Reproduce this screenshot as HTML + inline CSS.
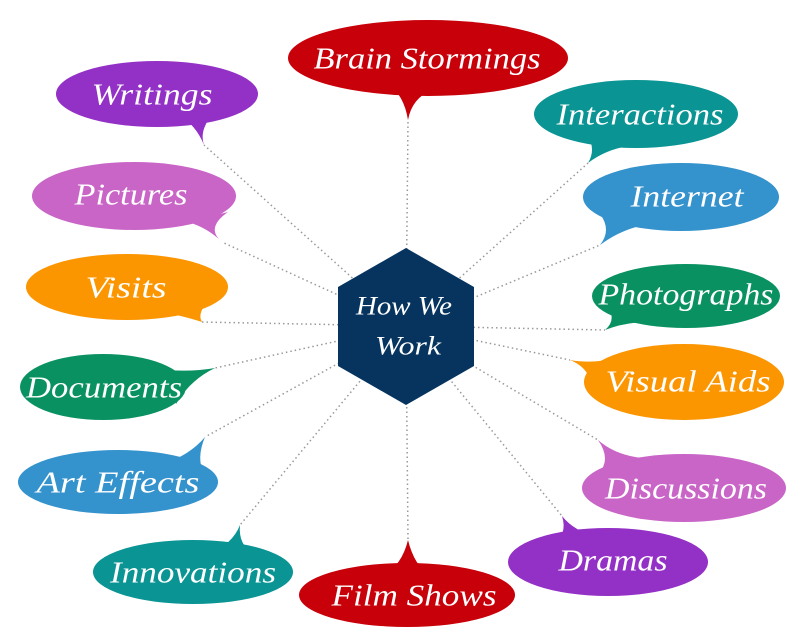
<!DOCTYPE html>
<html><head><meta charset="utf-8"><style>
html,body{margin:0;padding:0;background:#fff;}
svg{display:block;}
text{font-family:"Liberation Serif",serif;font-style:italic;fill:#fff;text-anchor:middle;dominant-baseline:central;font-size:31px;}
</style></head><body>
<svg width="812" height="643" viewBox="0 0 812 643" xmlns="http://www.w3.org/2000/svg">
<g stroke="#999" stroke-width="1.5" stroke-dasharray="1.5,3" fill="none">
<line x1="406" y1="326" x2="408" y2="120"/>
<line x1="406" y1="326" x2="204" y2="145"/>
<line x1="406" y1="326" x2="222" y2="242"/>
<line x1="406" y1="326" x2="200" y2="322"/>
<line x1="406" y1="326" x2="215" y2="368"/>
<line x1="406" y1="326" x2="205" y2="437"/>
<line x1="406" y1="326" x2="240" y2="525"/>
<line x1="406" y1="326" x2="408" y2="540"/>
<line x1="406" y1="326" x2="562" y2="516"/>
<line x1="406" y1="326" x2="598" y2="440"/>
<line x1="406" y1="326" x2="570" y2="360"/>
<line x1="406" y1="326" x2="605" y2="330"/>
<line x1="406" y1="326" x2="600" y2="245"/>
<line x1="406" y1="326" x2="588" y2="163"/>
</g>
<polygon points="406,248 474,287 474,366 406,405 338,366 338,287" fill="#06345f"/>
<text x="404" y="306" style="font-size:26px" textLength="96" lengthAdjust="spacingAndGlyphs">How We</text>
<text x="408" y="346" style="font-size:26px" textLength="66" lengthAdjust="spacingAndGlyphs">Work</text>

<g fill="#c8000a"><ellipse cx="428" cy="58" rx="140" ry="38"/><path d="M388,84 Q404,95 408,120 Q412,98 432,90 Z"/></g>
<text x="427" y="58" textLength="227" lengthAdjust="spacingAndGlyphs">Brain Stormings</text>

<g fill="#9330c5"><ellipse cx="157" cy="94" rx="101" ry="33"/><path d="M178,114 Q196,125 204,145 Q198,128 218,108 Z"/></g>
<text x="152" y="94" textLength="121" lengthAdjust="spacingAndGlyphs">Writings</text>

<g fill="#c965c7"><ellipse cx="134" cy="196" rx="102" ry="34"/><path d="M188,222 Q208,228 222,242 Q205,228 228,212 Z"/></g>
<text x="131" y="194" textLength="113" lengthAdjust="spacingAndGlyphs">Pictures</text>

<g fill="#fb9500"><ellipse cx="127" cy="287" rx="101" ry="33"/><path d="M168,313 Q190,318 202,322 Q196,312 212,298 Z"/></g>
<text x="126" y="287" textLength="81" lengthAdjust="spacingAndGlyphs">Visits</text>

<g fill="#0a9162"><ellipse cx="103" cy="387" rx="83" ry="33"/><path d="M168,370 Q192,372 215,368 Q190,380 176,404 Z"/></g>
<text x="104" y="387" textLength="156" lengthAdjust="spacingAndGlyphs">Documents</text>

<g fill="#3492cc"><ellipse cx="118" cy="482" rx="100" ry="32"/><path d="M163,464 Q190,455 205,437 Q196,458 204,474 Z"/></g>
<text x="118" y="482" textLength="163" lengthAdjust="spacingAndGlyphs">Art Effects</text>

<g fill="#0a9494"><ellipse cx="193" cy="572" rx="100" ry="32"/><path d="M210,552 Q232,545 240,525 Q238,545 254,554 Z"/></g>
<text x="193" y="572" textLength="166" lengthAdjust="spacingAndGlyphs">Innovations</text>

<g fill="#c8000a"><ellipse cx="407" cy="595" rx="108" ry="32"/><path d="M383,576 Q402,565 408,540 Q414,565 430,576 Z"/></g>
<text x="414" y="595" textLength="165" lengthAdjust="spacingAndGlyphs">Film Shows</text>

<g fill="#9330c5"><ellipse cx="608" cy="562" rx="100" ry="34"/><path d="M552,544 Q568,535 562,516 Q575,532 595,535 Z"/></g>
<text x="613" y="560" textLength="109" lengthAdjust="spacingAndGlyphs">Dramas</text>

<g fill="#c965c7"><ellipse cx="684" cy="488" rx="102" ry="34"/><path d="M598,474 Q612,460 598,440 Q615,455 642,458 Z"/></g>
<text x="686" y="488" textLength="162" lengthAdjust="spacingAndGlyphs">Discussions</text>

<g fill="#fb9500"><ellipse cx="684" cy="382" rx="100" ry="38"/><path d="M592,388 Q590,368 570,360 Q592,364 618,358 Z"/></g>
<text x="688" y="381" textLength="165" lengthAdjust="spacingAndGlyphs">Visual Aids</text>

<g fill="#0a9162"><ellipse cx="686" cy="296" rx="94" ry="32"/><path d="M610,310 Q615,322 605,330 Q625,322 648,322 Z"/></g>
<text x="686" y="294" textLength="175" lengthAdjust="spacingAndGlyphs">Photographs</text>

<g fill="#3492cc"><ellipse cx="681" cy="197" rx="98" ry="34"/><path d="M600,214 Q612,230 600,245 Q620,230 644,225 Z"/></g>
<text x="687" y="196" textLength="113" lengthAdjust="spacingAndGlyphs">Internet</text>

<g fill="#0a9494"><ellipse cx="636" cy="114" rx="102" ry="34"/><path d="M588,136 Q596,150 588,163 Q605,150 628,146 Z"/></g>
<text x="640" y="114" textLength="167" lengthAdjust="spacingAndGlyphs">Interactions</text>
</svg>
</body></html>
